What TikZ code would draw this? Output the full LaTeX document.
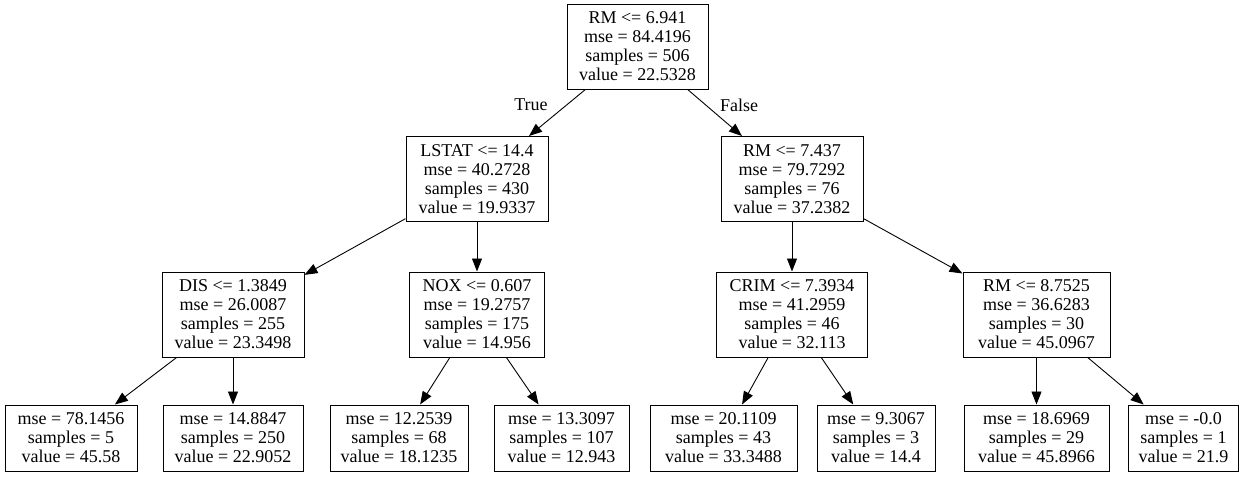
\documentclass[tikz,border=0pt]{standalone}
\usepackage{fontspec}
\setmainfont{Liberation Serif}
\usetikzlibrary{arrows.meta}
\begin{document}
\begin{tikzpicture}[x=1pt,y=-1pt,
  tnode/.style={draw, line width=1pt, rectangle, align=center, inner sep=0pt, font=\fontsize{18}{19}\selectfont},
  split/.style={tnode, minimum height=85pt},
  leaf/.style={tnode, minimum height=66pt},
  edge/.style={line width=0.9pt, -{Triangle[length=13pt,width=10pt]}},
  lbl/.style={font=\fontsize{18}{19}\selectfont, inner sep=0pt}]
\useasboundingbox (0,0) rectangle (1248,477);
\node[split, minimum width=141pt] (n0) at (637.5,46.5) {RM <= 6.941\\mse = 84.4196\\samples = 506\\value = 22.5328};
\node[split, minimum width=142pt] (n1) at (477,179) {LSTAT <= 14.4\\mse = 40.2728\\samples = 430\\value = 19.9337};
\node[split, minimum width=142pt] (n2) at (792,179) {RM <= 7.437\\mse = 79.7292\\samples = 76\\value = 37.2382};
\node[split, minimum width=142pt] (n3) at (233,314.5) {DIS <= 1.3849\\mse = 26.0087\\samples = 255\\value = 23.3498};
\node[split, minimum width=135pt] (n4) at (477,314.5) {NOX <= 0.607\\mse = 19.2757\\samples = 175\\value = 14.956};
\node[split, minimum width=151pt] (n5) at (792,314.5) {CRIM <= 7.3934\\mse = 41.2959\\samples = 46\\value = 32.113};
\node[split, minimum width=147pt] (n6) at (1036.5,314.5) {RM <= 8.7525\\mse = 36.6283\\samples = 30\\value = 45.0967};
\node[leaf, minimum width=132pt] (l1) at (71,438) {mse = 78.1456\\samples = 5\\value = 45.58};
\node[leaf, minimum width=140pt] (l2) at (233,438) {mse = 14.8847\\samples = 250\\value = 22.9052};
\node[leaf, minimum width=138pt] (l3) at (399,438) {mse = 12.2539\\samples = 68\\value = 18.1235};
\node[leaf, minimum width=135pt] (l4) at (561.5,438) {mse = 13.3097\\samples = 107\\value = 12.943};
\node[leaf, minimum width=147pt] (l5) at (723.5,438) {mse = 20.1109\\samples = 43\\value = 33.3488};
\node[leaf, minimum width=118pt] (l6) at (876,438) {mse = 9.3067\\samples = 3\\value = 14.4};
\node[leaf, minimum width=145pt] (l7) at (1036.5,438) {mse = 18.6969\\samples = 29\\value = 45.8966};
\node[leaf, minimum width=110pt] (l8) at (1183.5,438) {mse = -0.0\\samples = 1\\value = 21.9};
\draw[edge] (n0) -- (n1);
\draw[edge] (n0) -- (n2);
\draw[edge] (n1) -- (n3);
\draw[edge] (n1) -- (n4);
\draw[edge] (n2) -- (n5);
\draw[edge] (n2) -- (n6);
\draw[edge] (n3) -- (l1);
\draw[edge] (n3) -- (l2);
\draw[edge] (n4) -- (l3);
\draw[edge] (n4) -- (l4);
\draw[edge] (n5) -- (l5);
\draw[edge] (n5) -- (l6);
\draw[edge] (n6) -- (l7);
\draw[edge] (n6) -- (l8);
\node[lbl] (tlbl) at (531,105) {True};
\node[lbl] (flbl) at (739,105) {False};
\end{tikzpicture}
\end{document}
